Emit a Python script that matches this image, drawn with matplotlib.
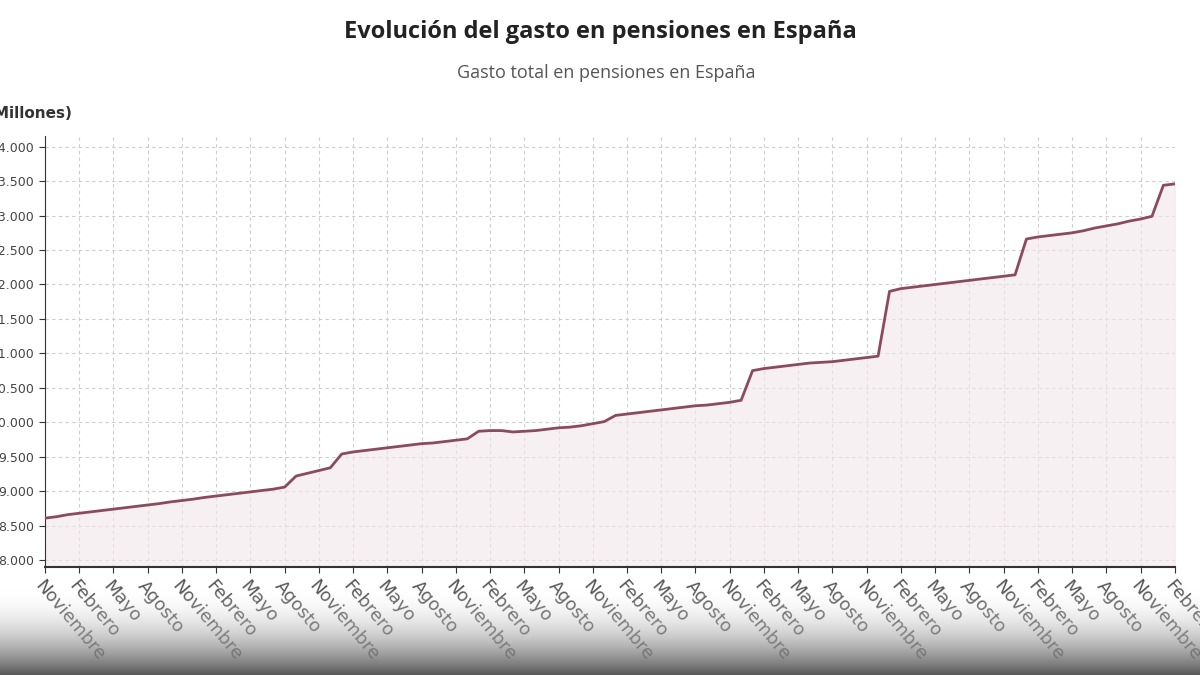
import numpy as np
import matplotlib
matplotlib.use("Agg")
import matplotlib.pyplot as plt

months = ["Noviembre", "Diciembre", "Enero", "Febrero", "Marzo", "Abril", "Mayo", "Junio", "Julio", "Agosto", "Septiembre", "Octubre"]
gasto = [8609, 8630, 8660, 8680, 8700, 8720, 8740, 8760, 8780, 8800, 8820, 8845,
         8865, 8885, 8910, 8930, 8950, 8970, 8990, 9010, 9030, 9060, 9220, 9260,
         9300, 9340, 9540, 9570, 9590, 9610, 9630, 9650, 9670, 9690, 9700, 9720,
         9740, 9760, 9870, 9880, 9880, 9860, 9870, 9880, 9900, 9920, 9930, 9950,
         9980, 10010, 10100, 10120, 10140, 10160, 10180, 10200, 10220, 10240, 10250, 10270,
         10290, 10320, 10750, 10780, 10800, 10820, 10840, 10860, 10870, 10880, 10900, 10920,
         10940, 10960, 11900, 11940, 11960, 11980, 12000, 12020, 12040, 12060, 12080, 12100,
         12120, 12140, 12660, 12690, 12710, 12730, 12750, 12780, 12820, 12850, 12880, 12920,
         12950, 12990, 13440, 13460]
month_labels = [months[i % 12] for i in range(len(gasto))]
yticks = [8000, 8500, 9000, 9500, 10000, 10500, 11000, 11500, 12000, 12500, 13000, 13500, 14000]
ytick_labels = ["8.000", "8.500", "9.000", "9.500", "10.000", "10.500", "11.000", "11.500",
                "12.000", "12.500", "13.000", "13.500", "14.000"]

fig = plt.figure(figsize=(12, 6.75), dpi=100)
ax = fig.add_axes([0.0375, 0.16, 0.9415, 0.638])
x = np.arange(len(gasto))
ax.plot(x, gasto, color="#8c4a5e", lw=2, zorder=3)
ax.fill_between(x, gasto, 7900, color="#f3e6ea", alpha=0.6, zorder=2)
ax.set_xlim(0, len(gasto) - 1)
ax.set_ylim(7900, 14150)
ax.set_yticks(yticks)
ax.set_yticklabels(ytick_labels, fontsize=9, color="#444444")
tick_pos = list(range(0, len(gasto), 3))
ax.set_xticks(tick_pos)
ax.set_xticklabels([month_labels[i] for i in tick_pos], rotation=-50, ha="left", va="top",
                   rotation_mode="anchor", fontsize=13, color="#555555")
ax.grid(True, color="#cccccc", ls=(0, (3, 3)), lw=0.8)
for s in ["top", "right"]:
    ax.spines[s].set_visible(False)
ax.spines["left"].set_color("#333333")
ax.spines["bottom"].set_color("#333333")
ax.spines["bottom"].set_linewidth(1.5)
ax.tick_params(axis="both", color="#333333", length=4)

fig.text(0.5, 0.953, "Evolución del gasto en pensiones en España", ha="center", va="center",
         fontsize=17, fontweight="bold", color="#222222", family="Open Sans")
fig.text(0.505, 0.892, "Gasto total en pensiones en España", ha="center", va="center",
         fontsize=13, color="#555555", family="Open Sans")
fig.text(-0.01, 0.832, "(Millones)", ha="left", va="center", fontsize=11, color="#333333",
         fontweight="bold")

# bottom grey fade
gax = fig.add_axes([0, 0, 1, 0.13], zorder=10)
grad = np.linspace(0, 1, 100).reshape(-1, 1)
from matplotlib.colors import LinearSegmentedColormap
cmap = LinearSegmentedColormap.from_list("g", [(0.35, 0.35, 0.35, 1), (1, 1, 1, 0)])
gax.imshow(grad, aspect="auto", cmap=cmap, origin="lower", extent=[0, 1, 0, 1])
gax.axis("off")

fig.savefig("out.png")
